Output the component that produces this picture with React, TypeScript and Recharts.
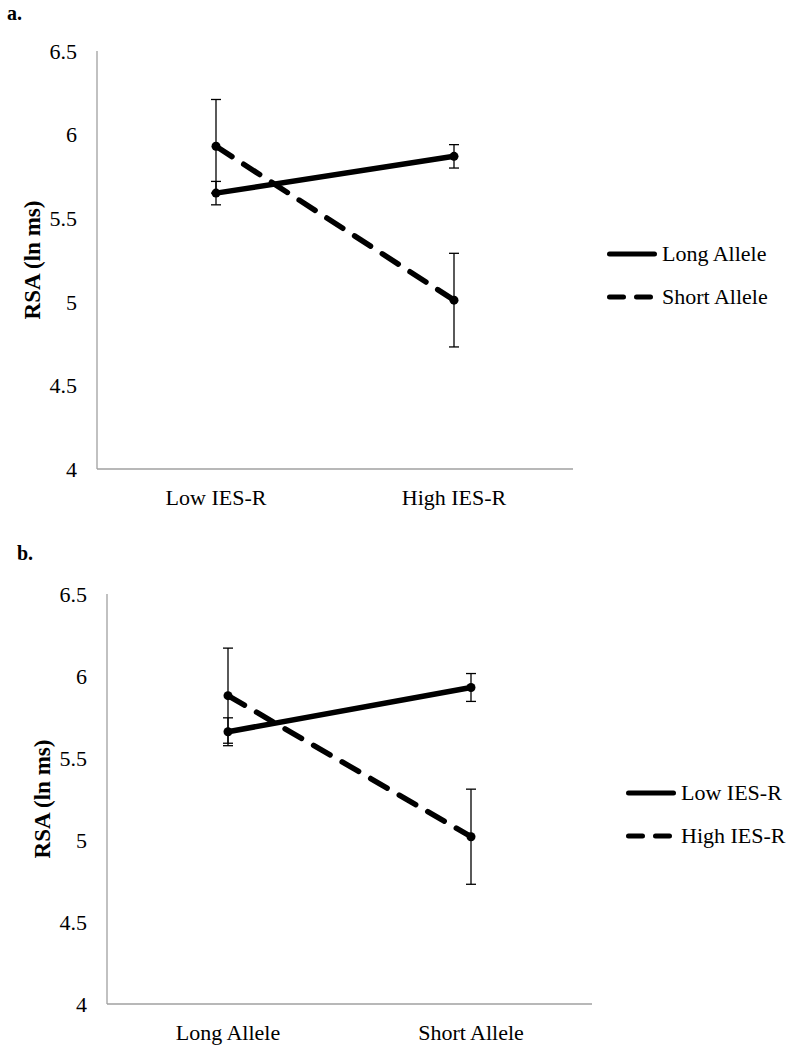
import { LineChart, Line, XAxis, YAxis, ErrorBar, Legend, Label } from "recharts";

const FONT = '"Liberation Serif", "Times New Roman", serif';
const AXIS_GRAY = "#a0a0a0";

// panel a
const allelesByIes = ["Low IES-R", "High IES-R"];
const longAllele = [5.65, 5.87];
const longAlleleErr = [0.07, 0.07];
const shortAllele = [5.93, 5.01];
const shortAlleleErr = [0.28, 0.28];

// panel b
const iesByAllele = ["Long Allele", "Short Allele"];
const lowIes = [5.66, 5.93];
const lowIesErr = [0.085, 0.085];
const highIes = [5.88, 5.02];
const highIesErr = [0.29, 0.29];

const yTicks = [4, 4.5, 5, 5.5, 6, 6.5];

const DASH = "19 14";
const LEGEND_DASH = "14 13";

const buildRows = (cats: string[], solid: number[], solidErr: number[], dashed: number[], dashedErr: number[]) =>
  cats.map((name, i) => ({
    name,
    solid: solid[i],
    solidErr: solidErr[i],
    dashed: dashed[i],
    dashedErr: dashedErr[i],
  }));

const panelA = buildRows(allelesByIes, longAllele, longAlleleErr, shortAllele, shortAlleleErr);
const panelB = buildRows(iesByAllele, lowIes, lowIesErr, highIes, highIesErr);

type LegendItem = { name: string; dash?: string };

const LegendBox = ({ items }: { items: LegendItem[] }) => (
  <div style={{ fontFamily: FONT, fontSize: 22, color: "#000" }}>
    {items.map((it) => (
      <div key={it.name} style={{ display: "flex", alignItems: "center", height: 43 }}>
        <svg width={50} height={10} style={{ display: "block" }}>
          <line
            x1={2.5}
            x2={47.5}
            y1={5}
            y2={5}
            stroke="#000"
            strokeWidth={5}
            strokeLinecap="round"
            strokeDasharray={it.dash}
          />
        </svg>
        <span style={{ marginLeft: 5, whiteSpace: "nowrap" }}>{it.name}</span>
      </div>
    ))}
  </div>
);

const YTitle = (props: any) => {
  const vb = props.viewBox || {};
  const cx = vb.x - 5;
  const cy = vb.y + vb.height / 2;
  return (
    <text
      x={cx}
      y={cy}
      transform={`rotate(-90 ${cx} ${cy})`}
      textAnchor="middle"
      dominantBaseline="central"
      fontFamily={FONT}
      fontSize={23}
      fontWeight="bold"
      fill="#000"
    >
      RSA (ln ms)
    </text>
  );
};

type PanelProps = {
  data: ReturnType<typeof buildRows>;
  names: [string, string];
  width: number;
  height: number;
  margin: { top: number; right: number; bottom: number; left: number };
  pad: number;
  legendPos: { left: number; top: number };
};

const Panel = ({ data, names, width, height, margin, pad, legendPos }: PanelProps) => (
  <LineChart width={width} height={height} data={data} margin={margin}>
    <XAxis
      dataKey="name"
      height={40}
      padding={{ left: pad, right: pad }}
      axisLine={{ stroke: AXIS_GRAY, strokeWidth: 1.3 }}
      tickLine={false}
      tickSize={0}
      tickMargin={20}
      tick={{ fill: "#000", fontSize: 22, fontFamily: FONT }}
    />
    <YAxis
      type="number"
      width={60}
      domain={[4, 6.5]}
      ticks={yTicks}
      axisLine={{ stroke: AXIS_GRAY, strokeWidth: 1.3 }}
      tickLine={false}
      tickSize={0}
      tickMargin={20}
      tick={{ fill: "#000", fontSize: 22, fontFamily: FONT }}
    >
      <Label content={<YTitle />} />
    </YAxis>
    <Legend
      layout="vertical"
      align="center"
      verticalAlign="middle"
      wrapperStyle={{ left: legendPos.left, top: legendPos.top, width: 170 }}
      content={() => <LegendBox items={[{ name: names[0] }, { name: names[1], dash: LEGEND_DASH }]} />}
    />
    <Line
      dataKey="solid"
      name={names[0]}
      stroke="#000"
      strokeWidth={5.5}
      dot={{ r: 4.5, fill: "#000", stroke: "#000", strokeWidth: 0 }}
      isAnimationActive={false}
    >
      <ErrorBar dataKey="solidErr" width={5} stroke="#000" strokeWidth={1.3} direction="y" />
    </Line>
    <Line
      dataKey="dashed"
      name={names[1]}
      stroke="#000"
      strokeWidth={5.5}
      strokeDasharray={DASH}
      strokeLinecap="round"
      dot={{ r: 4.5, fill: "#000", stroke: "#000", strokeWidth: 0, strokeDasharray: "0" }}
      isAnimationActive={false}
    >
      <ErrorBar dataKey="dashedErr" width={5} stroke="#000" strokeWidth={1.3} direction="y" />
    </Line>
  </LineChart>
);

const letterStyle = {
  position: "absolute" as const,
  fontFamily: FONT,
  fontWeight: "bold" as const,
  fontSize: 20,
  lineHeight: "22px",
};

export default function App() {
  return (
    <div style={{ position: "absolute", left: 0, top: 0, width: 788, height: 1050, background: "#fff" }}>
      <div style={{ ...letterStyle, left: 7, top: 2 }}>a.</div>
      <div style={{ position: "absolute", left: 0, top: 0 }}>
        <Panel
          data={panelA}
          names={["Long Allele", "Short Allele"]}
          width={788}
          height={520}
          margin={{ top: 51, right: 215, bottom: 11, left: 37 }}
          pad={119}
          legendPos={{ left: 607, top: 232 }}
        />
      </div>
      <div style={{ ...letterStyle, left: 17, top: 542 }}>b.</div>
      <div style={{ position: "absolute", left: 0, top: 520 }}>
        <Panel
          data={panelB}
          names={["Low IES-R", "High IES-R"]}
          width={788}
          height={530}
          margin={{ top: 74, right: 196, bottom: 6, left: 47 }}
          pad={121}
          legendPos={{ left: 626, top: 251 }}
        />
      </div>
    </div>
  );
}
